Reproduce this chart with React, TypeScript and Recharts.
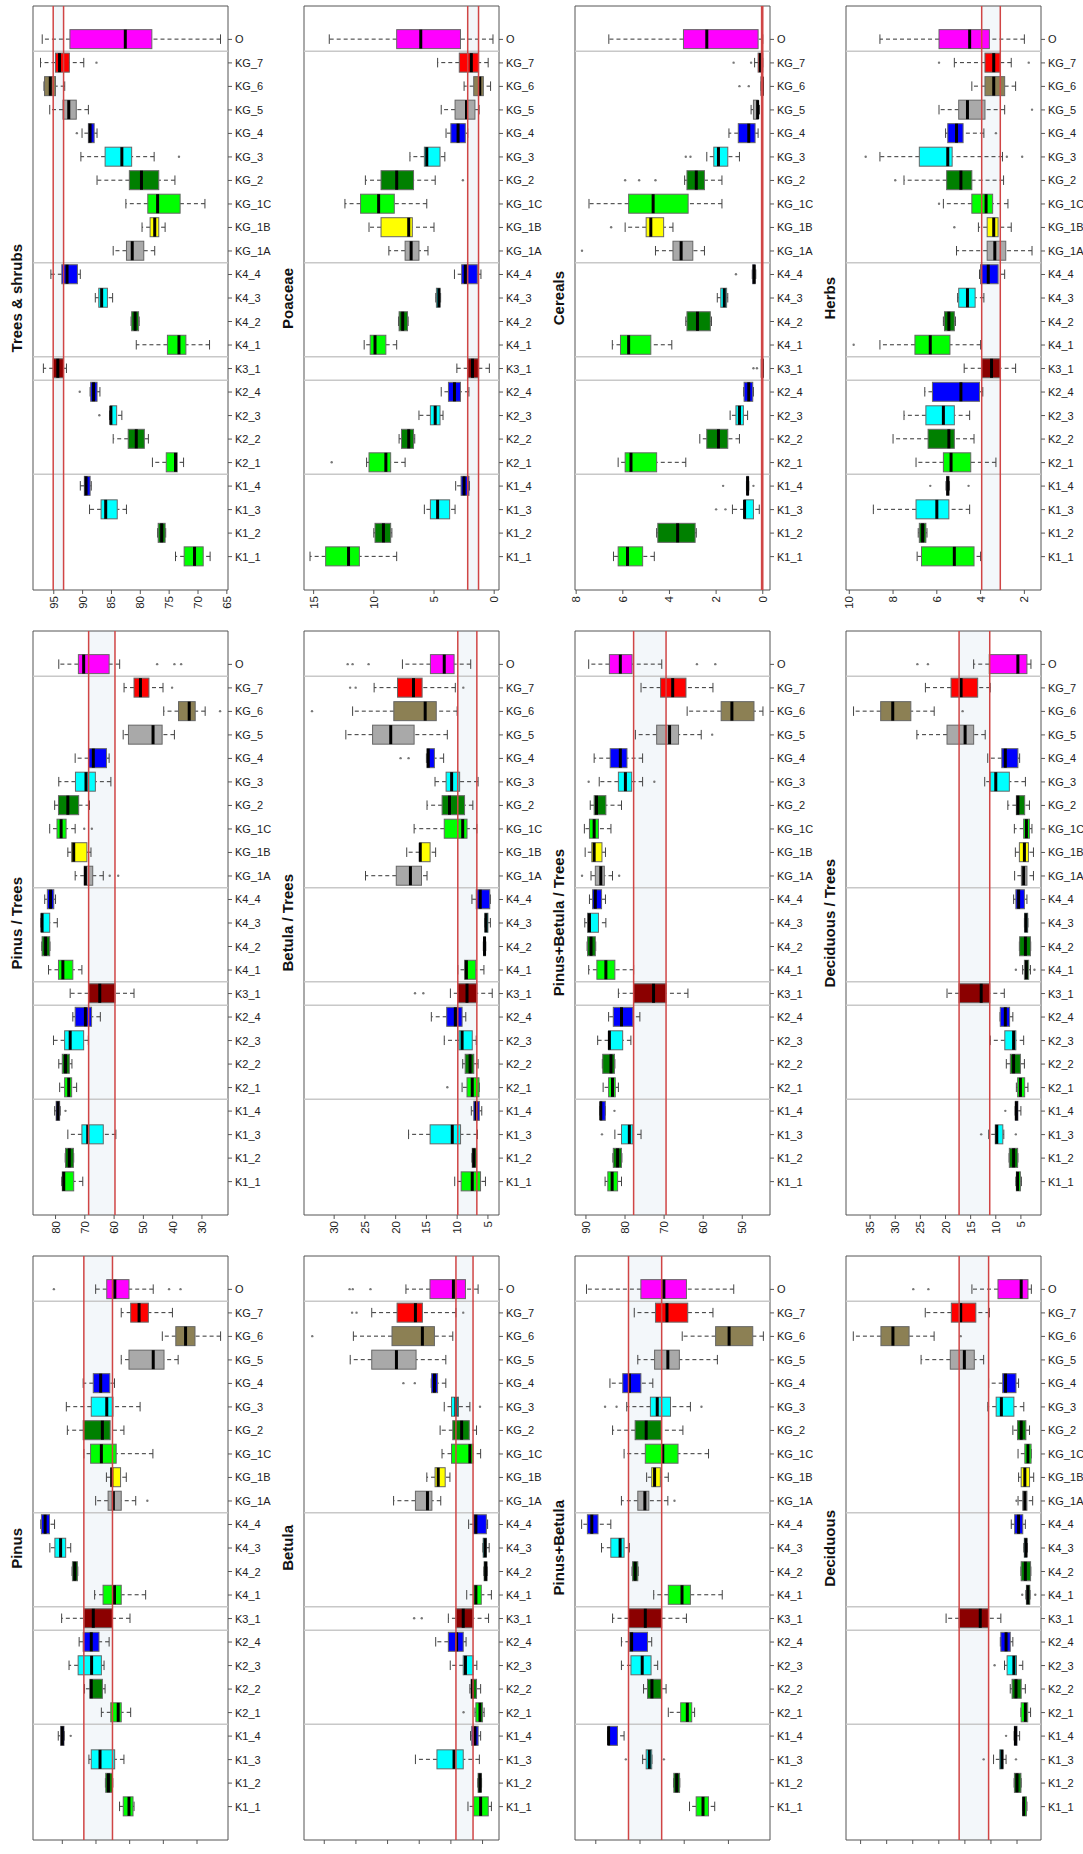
import React from "react";
import { ComposedChart, Bar, XAxis, YAxis, ReferenceLine, ReferenceArea } from "recharts";

const categories = ["K1_1","K1_2","K1_3","K1_4","K2_1","K2_2","K2_3","K2_4","K3_1","K4_1","K4_2","K4_3","K4_4","KG_1A","KG_1B","KG_1C","KG_2","KG_3","KG_4","KG_5","KG_6","KG_7","O"];
const boxColors = ["#00ff00","#008000","#00ffff","#0000ff","#00ff00","#008000","#00ffff","#0000ff","#8b0000","#00ff00","#008000","#00ffff","#0000ff","#a9a9a9","#ffff00","#00ff00","#008000","#00ffff","#0000ff","#a9a9a9","#8c8054","#ff0000","#ff00ff"];
const categoryExtent = [-0.42, 24.42];

// each row: [lower whisker, Q1, median, Q3, upper whisker] in category order
const treesShrubs = [[67.9,69.1,70.6,72.4,73.9],[75.6,75.7,76.3,76.9,77.0],[82.4,84.0,86.0,86.8,88.8],[88.5,88.7,89.4,89.7,90.4],[72.5,73.6,73.9,75.5,77.9],[78.6,79.3,80.7,82.1,84.7],[83.2,84.1,85.1,85.2,85.3],[87.0,87.5,88.1,88.6,88.7],[92.8,93.3,94.3,95.1,96.8],[68.0,72.1,73.3,75.3,80.7],[80.2,80.3,80.9,81.5,81.6],[84.8,85.7,86.7,87.2,87.8],[90.4,90.9,92.7,93.6,95.5],[77.5,79.4,81.4,82.4,84.7],[75.7,76.8,77.5,78.3,79.7],[68.8,73.1,77.0,78.7,82.5],[74.0,76.8,79.8,81.9,87.5],[77.6,81.5,83.2,86.1,90.3],[87.5,88.0,88.7,89.0,90.1],[89.0,91.1,92.4,93.4,95.7],[93.1,94.7,95.6,96.6,96.7],[89.8,92.3,94.0,94.7,97.3],[66.1,78.0,82.6,92.2,97.0]];
const treesShrubsOut = [["K2_3",87.1],["K2_4",90.5],["KG_3",73.3],["KG_4",91.0],["KG_7",87.6]];

const poaceae = [[8.1,11.2,12.1,14.0,15.3],[8.5,8.6,9.2,9.9,10.0],[3.25,3.7,4.7,5.3,5.8],[2.05,2.1,2.5,2.75,3.2],[7.4,8.6,9.0,10.4,10.6],[6.6,6.7,7.1,7.7,7.9],[4.25,4.5,4.9,5.3,6.25],[2.1,2.8,3.3,3.8,4.4],[0.4,1.3,1.8,2.2,3.1],[8.1,9.0,9.9,10.3,10.8],[7.15,7.2,7.6,7.9,7.95],[4.45,4.5,4.6,4.8,4.85],[1.1,1.4,2.4,2.7,3.3],[5.5,6.25,6.9,7.4,8.75],[5.0,6.8,7.1,9.4,10.4],[5.6,8.3,9.6,11.1,12.4],[4.9,6.7,8.1,9.4,10.7],[4.1,4.5,5.6,5.8,7.0],[2.2,2.4,3.0,3.6,4.0],[1.25,1.6,2.3,3.25,4.4],[0.3,0.9,1.2,1.7,2.5],[0.5,1.3,1.9,2.9,4.7],[0.1,2.8,6.1,8.1,13.7]];
const poaceaeOut = [["K2_1",13.5],["KG_2",2.6]];

const cereals = [[4.65,5.15,5.8,6.2,6.4],[2.85,2.9,3.65,4.5,4.55],[0.15,0.4,0.78,0.8,1.3],[0.6,0.62,0.65,0.68,0.7],[3.3,4.55,5.65,5.9,6.2],[1.0,1.5,1.9,2.4,2.7],[0.65,0.83,1.0,1.15,1.4],[0.4,0.43,0.6,0.8,0.82],[0,0,0.02,0.05,0.05],[3.9,4.8,5.75,6.1,6.45],[2.2,2.25,2.8,3.25,3.3],[1.5,1.55,1.65,1.8,1.95],[0.3,0.33,0.37,0.43,0.45],[2.5,3.0,3.5,3.85,4.6],[3.85,4.25,4.8,5.0,5.9],[1.75,3.2,4.7,5.75,7.45],[1.75,2.5,2.85,3.25,3.35],[1.0,1.5,1.9,2.1,2.4],[0.2,0.33,0.6,1.05,1.45],[0.14,0.2,0.22,0.4,0.5],[0,0,0.02,0.07,0.07],[0,0,0.1,0.2,0.35],[0.0,0.2,2.4,3.4,6.6]];
const cerealsOut = [["K1_3",2.0],["K1_3",1.6],["K1_4",1.7],["K1_4",0.4],["K3_1",0.4],["K3_1",0.25],["K4_4",1.15],["KG_1A",7.75],["KG_1B",6.5],["KG_2",4.6],["KG_2",5.3],["KG_2",5.9],["KG_3",3.1],["KG_3",3.3],["KG_6",0.6],["KG_6",1.0],["KG_7",1.25],["KG_7",0.5]];

const herbs = [[4.0,4.3,5.2,6.7,6.9],[6.45,6.5,6.65,6.8,6.85],[4.5,5.45,6.0,6.95,8.9],[5.42,5.45,5.5,5.55,5.58],[3.3,4.45,5.35,5.7,6.95],[4.3,5.2,5.45,6.4,8.0],[4.5,5.2,5.7,6.5,7.5],[3.9,4.05,4.9,6.2,6.55],[2.4,3.1,3.5,3.95,4.75],[4.0,5.4,6.3,7.0,8.6],[5.15,5.2,5.45,5.65,5.7],[3.85,4.25,4.6,5.0,5.05],[2.9,3.2,3.65,4.0,4.05],[1.65,2.85,3.35,3.7,5.1],[2.6,3.2,3.4,3.7,4.1],[2.75,3.45,3.75,4.4,5.7],[2.95,4.4,4.9,5.55,7.5],[3.0,5.3,5.5,6.8,8.6],[3.85,4.8,5.1,5.5,5.6],[2.9,3.8,4.6,5.0,5.9],[2.4,2.9,3.4,3.8,4.4],[2.6,3.1,3.4,3.8,5.2],[2.0,3.6,4.5,5.9,8.6]];
const herbsOut = [["K1_4",6.3],["K1_4",4.55],["K4_1",9.8],["KG_1B",5.2],["KG_1C",5.9],["KG_2",7.9],["KG_3",9.25],["KG_3",2.8],["KG_3",2.1],["KG_4",3.3],["KG_5",1.65],["KG_7",5.9],["KG_7",1.8]];

const pinusTrees = [[70.7,73.8,77.2,77.7,77.9],[73.8,73.9,75.3,76.6,76.7],[59.4,63.7,69.0,71.0,75.8],[78.4,78.6,79.2,79.8,80.3],[72.8,74.5,75.5,76.9,78.6],[74.4,75.3,76.6,77.7,78.9],[68.8,70.4,75.0,76.9,80.7],[64.7,67.7,69.8,73.3,74.1],[53.2,59.7,64.9,68.7,75.0],[71.0,74.1,77.5,79.0,82.4],[81.9,82.0,83.4,84.6,84.7],[79.4,82.0,84.6,84.9,85.0],[80.0,80.6,81.7,82.8,83.7],[63.7,67.3,69.8,70.2,73.3],[67.9,69.3,73.8,74.5,75.8],[73.3,76.4,78.1,79.5,82.0],[68.4,72.1,75.8,79.0,80.3],[61.1,66.4,69.6,73.2,78.9],[61.7,62.6,67.1,68.7,73.3],[39.4,43.6,46.7,55.1,56.9],[28.9,32.3,34.35,38.0,43.05],[43.3,48.1,51.0,53.2,56.6],[58.1,61.7,70.4,72.2,78.9]];
const pinusTreesOut = [["K1_4",76.6],["KG_1A",61.5],["KG_1A",58.6],["KG_1C",70.2],["KG_1C",67.6],["KG_6",23.8],["KG_7",40.2],["O",45.3],["O",39.4],["O",37.1]];

const betulaTrees = [[5.4,6.2,7.55,9.35,10.4],[6.85,6.9,7.3,7.55,7.6],[6.7,9.45,10.8,14.4,17.9],[6.0,6.4,6.9,7.3,7.7],[6.4,6.45,7.55,8.4,9.2],[6.6,7.3,7.9,8.7,9.1],[6.9,7.55,9.2,9.7,12.1],[8.6,9.2,10.3,11.7,14.2],[4.3,6.8,8.4,9.9,11.1],[5.65,7.0,8.5,8.8,9.9],[5.35,5.4,5.55,5.7,5.75],[4.6,5.0,5.3,5.5,5.55],[4.6,4.7,6.25,6.9,7.6],[14.9,15.8,17.6,19.9,24.9],[13.5,14.4,16.0,16.1,18.2],[6.8,8.4,9.1,12.1,17.0],[7.45,8.8,11.25,12.45,14.9],[6.6,9.6,10.9,11.8,13.6],[12.2,13.7,14.7,14.9,15.0],[11.6,17.0,20.8,23.75,28.1],[10.0,13.4,15.2,20.3,27.0],[10.3,15.7,17.1,19.7,23.5],[7.8,10.5,12.1,14.35,18.9]];
const betulaTreesOut = [["K2_1",11.6],["K3_1",16.85],["K3_1",15.5],["KG_4",19.2],["KG_4",17.9],["KG_6",33.6],["KG_7",27.4],["KG_7",26.5],["KG_7",9.0],["O",27.8],["O",27.0],["O",24.4]];

const pinusBetulaTrees = [[80.9,81.9,83.3,84.4,85.1],[80.8,80.9,81.9,83.0,83.1],[75.9,78.0,78.9,80.9,82.6],[85.0,85.05,86.2,86.3,86.4],[81.7,82.5,83.2,84.2,85.6],[82.6,82.7,83.6,85.7,85.8],[78.5,80.6,84.0,84.2,87.0],[76.2,78.0,80.9,83.0,84.2],[63.9,69.5,72.7,77.8,81.7],[77.8,82.6,84.9,87.2,89.3],[87.5,87.6,88.7,89.6,89.7],[84.9,86.8,89.1,89.6,90.3],[85.0,86.0,87.6,88.3,89.1],[83.2,85.3,86.2,87.6,88.7],[85.0,85.9,87.9,88.5,90.2],[83.6,86.8,87.9,89.1,90.4],[80.9,84.9,87.3,87.9,88.9],[75.5,78.3,79.9,81.7,86.6],[75.5,79.5,81.2,83.8,87.9],[60.5,66.3,68.6,71.9,77.35],[44.7,47.0,52.65,55.4,64.1],[57.5,64.4,67.8,70.9,75.9],[70.6,78.2,81.2,84.0,89.3]];
const pinusBetulaTreesOut = [["K1_3",85.9],["K1_4",82.7],["KG_1A",91.0],["KG_1A",81.5],["KG_3",89.3],["KG_3",72.5],["KG_5",57.7],["O",61.6],["O",56.9]];

const deciduousTrees = [[4.9,5.1,5.65,5.9,6.0],[5.6,5.65,6.45,7.3,7.35],[8.4,8.6,9.8,10.1,11.4],[5.0,5.6,5.9,6.1,6.15],[3.6,4.25,5.1,5.65,5.9],[4.3,5.1,6.45,7.1,7.9],[4.45,6.0,6.45,8.2,11.1],[6.6,7.25,8.1,9.1,9.15],[8.3,11.2,12.9,17.3,19.7],[3.1,3.45,3.9,4.3,4.65],[3.05,3.1,4.1,5.25,5.3],[3.6,3.65,4.0,4.25,4.3],[3.8,4.3,5.45,6.0,6.45],[2.5,3.8,4.45,4.9,6.25],[2.5,3.5,4.3,5.3,6.1],[2.8,3.3,3.9,4.45,6.3],[3.3,4.25,5.6,5.9,7.6],[4.1,7.3,10.0,11.1,12.2],[5.25,5.6,8.1,8.8,11.6],[12.1,14.4,16.1,19.7,25.7],[22.25,26.9,30.5,32.9,38.3],[11.1,13.6,16.9,18.9,24.0],[3.0,3.8,5.6,11.3,14.4]];
const deciduousTreesOut = [["K1_3",12.9],["K1_3",6.0],["K1_4",8.1],["K4_1",6.0],["K4_1",2.3],["KG_6",16.6],["O",25.6],["O",23.5]];

const pinus = [[48.7,49.0,50.2,51.9,53.0],[55.0,55.1,56.3,57.1,57.2],[51.7,54.45,58.8,61.4,62.1],[69.4,69.5,70.0,70.5,71.2],[49.7,52.5,53.4,55.6,58.4],[57.3,58.1,61.4,61.8,63.4],[57.6,58.4,61.3,65.3,68.0],[56.1,59.1,61.4,63.8,65.0],[49.9,55.1,60.8,63.6,70.2],[45.25,52.5,54.5,57.9,60.4],[65.4,65.5,66.3,67.0,67.1],[67.5,69.0,70.5,72.2,73.7],[72.3,73.8,75.1,76.2,76.4],[48.2,52.5,54.85,56.4,60.1],[51.0,52.7,55.3,55.6,56.9],[43.1,54.0,58.4,61.6,63.6],[51.7,55.8,58.1,63.8,68.5],[46.9,54.95,56.8,61.4,68.8],[54.5,55.9,58.6,60.8,63.8],[35.6,39.8,43.0,50.2,52.5],[23.0,30.6,33.4,36.3,40.3],[37.3,44.45,47.2,49.7,52.5],[43.0,50.2,54.4,56.8,60.1]];
const pinusOut = [["K1_4",67.5],["KG_1A",44.75],["O",72.5],["O",38.3],["O",34.9]];

const betula = [[3.6,4.1,5.3,6.4,7.3],[5.15,5.2,5.4,5.7,5.75],[5.5,8.05,9.5,12.2,15.6],[5.3,5.7,6.2,6.7,6.9],[4.75,5.0,5.4,6.05,6.2],[5.3,5.95,6.6,6.8,7.0],[5.9,6.5,7.7,8.05,10.1],[7.6,8.05,9.1,10.4,12.4],[4.05,6.5,8.05,9.2,10.4],[3.6,5.2,6.05,6.4,7.5],[4.25,4.3,4.5,4.75,4.8],[3.95,4.4,4.6,4.9,4.95],[4.2,4.4,6.05,6.4,7.2],[11.6,13.0,13.7,15.6,19.05],[10.15,10.9,12.0,12.5,13.8],[5.3,6.5,7.0,9.9,11.4],[5.95,7.1,8.3,9.7,11.7],[7.0,8.8,9.2,9.9,11.05],[10.8,12.1,12.6,13.05,13.1],[10.8,15.5,18.6,22.5,25.9],[9.7,12.6,14.5,19.3,25.4],[9.2,14.5,15.6,18.5,22.5],[5.7,7.7,9.6,13.3,17.1]];
const betulaOut = [["K2_1",8.0],["K3_1",15.8],["K3_1",14.6],["KG_3",5.4],["KG_4",17.5],["KG_4",15.7],["KG_6",31.9],["KG_7",25.6],["KG_7",24.9],["KG_7",8.05],["O",26.0],["O",25.5],["O",22.7]];

const pinusBetula = [[53.1,54.5,55.75,57.3,58.8],[61.0,61.05,61.7,62.35,62.4],[67.3,67.35,67.9,68.6,69.4],[73.6,75.1,77.1,77.2,77.3],[57.65,58.3,59.3,60.8,63.6],[64.1,65.2,67.3,68.3,69.2],[66.0,67.5,69.5,72.05,74.2],[67.35,68.3,71.9,72.4,74.2],[59.5,65.1,68.8,72.6,76.2],[51.4,58.6,60.5,63.6,66.9],[70.4,70.5,71.1,71.7,71.8],[72.4,73.6,74.5,76.6,78.7],[76.6,79.5,80.9,81.9,83.2],[63.7,68.0,68.9,70.5,74.2],[63.6,65.4,66.7,67.35,68.5],[54.5,61.4,64.85,68.8,73.6],[60.3,65.2,68.6,71.1,76.2],[58.6,63.1,66.1,67.65,73.0],[67.1,69.8,72.4,73.9,76.8],[52.5,61.1,63.7,66.7,70.5],[42.1,44.5,49.85,52.9,60.45],[53.5,59.2,63.9,66.5,71.3],[48.8,59.5,64.6,69.8,82.1]];
const pinusBetulaOut = [["K1_3",73.2],["K1_3",64.6],["KG_1A",62.2],["KG_3",77.9],["KG_3",75.3],["KG_3",56.1]];

const deciduous = [[3.1,3.2,3.7,3.9,3.95],[4.2,4.25,5.0,5.5,5.55],[7.1,7.7,7.9,8.3,9.5],[4.5,5.0,5.3,5.5,5.55],[2.4,2.95,3.4,4.2,4.25],[3.4,4.2,5.2,5.95,6.3],[3.9,5.1,5.6,6.9,7.4],[5.8,6.3,7.1,8.1,8.2],[8.1,10.45,12.05,16.1,18.6],[2.5,2.55,2.9,3.2,3.3],[2.35,2.4,3.4,4.2,4.25],[3.0,3.1,3.3,3.6,3.7],[3.4,3.9,4.7,5.45,6.1],[2.0,3.1,3.5,3.9,4.8],[1.8,2.6,3.5,4.2,4.7],[2.25,2.3,2.9,3.5,4.8],[2.6,3.3,4.2,4.9,5.8],[3.7,5.6,8.0,9.0,10.6],[4.7,5.2,7.2,7.75,10.45],[11.4,13.2,15.1,17.8,23.4],[20.9,25.7,28.8,31.1,36.4],[10.3,12.9,15.8,17.6,22.6],[2.25,2.9,4.2,8.65,13.65]];
const deciduousOut = [["K1_3",11.4],["K1_3",5.2],["K1_4",7.1],["K2_3",9.3],["K4_1",4.0],["K4_1",1.5],["KG_1A",5.1],["KG_6",15.8],["O",24.9],["O",22.0]];

const panels = [
  { title: "Trees & shrubs", boxes: treesShrubs, outs: treesShrubsOut, domain: [64.8, 98.6], ticks: [65,70,75,80,85,90,95] },
  { title: "Poaceae", boxes: poaceae, outs: poaceaeOut, domain: [-0.4, 15.8], ticks: [0,5,10,15] },
  { title: "Cereals", boxes: cereals, outs: cerealsOut, domain: [-0.31, 8.05], ticks: [0,2,4,6,8] },
  { title: "Herbs", boxes: herbs, outs: herbsOut, domain: [1.24, 10.15], ticks: [2,4,6,8,10] },
  { title: "Pinus / Trees", boxes: pinusTrees, outs: pinusTreesOut, domain: [21.1, 87.7], ticks: [30,40,50,60,70,80] },
  { title: "Betula / Trees", boxes: betulaTrees, outs: betulaTreesOut, domain: [3.2, 34.9], ticks: [5,10,15,20,25,30] },
  { title: "Pinus+Betula / Trees", boxes: pinusBetulaTrees, outs: pinusBetulaTreesOut, domain: [42.9, 92.8], ticks: [50,60,70,80,90] },
  { title: "Deciduous / Trees", boxes: deciduousTrees, outs: deciduousTreesOut, domain: [1.0, 39.8], ticks: [5,10,15,20,25,30,35] },
  { title: "Pinus", boxes: pinus, outs: pinusOut, domain: [20.8, 78.7], ticks: [30,40,50,60,70] },
  { title: "Betula", boxes: betula, outs: betulaOut, domain: [2.4, 33.2], ticks: [5,10,15,20,25,30] },
  { title: "Pinus+Betula", boxes: pinusBetula, outs: pinusBetulaOut, domain: [40.6, 84.7], ticks: [50,60,70,80] },
  { title: "Deciduous", boxes: deciduous, outs: deciduousOut, domain: [0.4, 37.8], ticks: [5,10,15,20,25,30,35] },
];

const COL_W = 271;
const ROW_H = 625;
const FONT = "'Liberation Sans', Arial, Helvetica, sans-serif";

const groupOf = (c: string) => (c === "O" ? "O" : c.slice(0, 2));
const positions = categories.map((_, i) => i + 1);
const separators = categories
  .map((c, i) => (i > 0 && groupOf(c) !== groupOf(categories[i - 1]) ? i + 0.5 : null))
  .filter((v) => v !== null) as number[];

function BoxShape(props: any) {
  const { x, y, width, height, payload } = props;
  const { min, q1, med, q3, max, outs, fill } = payload;
  const px = (v: number) => x + ((v - min) / (max - min)) * width;
  const cy = y + height / 2;
  const cap = height / 4;
  const bx = Math.min(px(q1), px(q3));
  const bw = Math.abs(px(q3) - px(q1));
  return (
    <g>
      <line x1={px(min)} x2={px(q1)} y1={cy} y2={cy} stroke="#333" strokeDasharray="4 3" strokeWidth={1} />
      <line x1={px(q3)} x2={px(max)} y1={cy} y2={cy} stroke="#333" strokeDasharray="4 3" strokeWidth={1} />
      <line x1={px(min)} x2={px(min)} y1={cy - cap} y2={cy + cap} stroke="#444" strokeWidth={1} />
      <line x1={px(max)} x2={px(max)} y1={cy - cap} y2={cy + cap} stroke="#444" strokeWidth={1} />
      <rect x={bx} y={y} width={bw} height={height} fill={fill} stroke="#666" strokeWidth={1} />
      <line x1={px(med)} x2={px(med)} y1={y} y2={y + height} stroke="#000" strokeWidth={3} />
      {outs.map((v: number, k: number) => (
        <circle key={k} cx={px(v)} cy={cy} r={1.2} fill="#777" />
      ))}
    </g>
  );
}

function RotTick(props: any) {
  const { x, y, payload, hidden } = props;
  if (hidden) return <g />;
  return (
    <text x={x} y={y} transform={`rotate(-90 ${x} ${y})`} textAnchor="end" dominantBaseline="central" fontSize={11.5} fill="#222" fontFamily={FONT}>
      {payload.value}
    </text>
  );
}

function CatTick(props: any) {
  const { x, y, payload } = props;
  return (
    <text x={x} y={y} textAnchor="start" dominantBaseline="central" fontSize={11} fill="#222" fontFamily={FONT}>
      {categories[payload.value - 1]}
    </text>
  );
}

function Panel({ panel, col, row }: any) {
  const data = categories.map((name, i) => {
    const [min, q1, med, q3, max] = panel.boxes[i];
    return {
      pos: i + 1,
      name,
      min, q1, med, q3, max,
      fill: boxColors[i],
      outs: panel.outs.filter((o: any) => o[0] === name).map((o: any) => o[1]),
    };
  });
  const ref = data[categories.indexOf("K3_1")];
  // the last row's value labels fall below the page edge in the reference crop
  const hideValueLabels = row === 2;
  return (
    <div style={{ position: "absolute", left: col * COL_W, top: row * ROW_H, width: COL_W, height: ROW_H }}>
      <div
        style={{
          position: "absolute", left: 0, top: 6, width: 33, height: 584,
          display: "flex", alignItems: "center", justifyContent: "center",
        }}
      >
        <div style={{ writingMode: "vertical-rl", transform: "rotate(180deg)", fontWeight: "bold", fontSize: 15, fontFamily: FONT, color: "#111", whiteSpace: "nowrap" }}>
          {panel.title}
        </div>
      </div>
      <ComposedChart
        width={COL_W}
        height={ROW_H}
        layout="vertical"
        data={data}
        margin={{ top: 6, right: 0, bottom: 0, left: 33 }}
        style={{ overflow: "visible" }}
      >
        <XAxis
          type="number"
          domain={panel.domain}
          ticks={panel.ticks}
          reversed
          allowDataOverflow
          axisLine={false}
          tickLine={{ stroke: "#555" }}
          tickSize={4}
          tickMargin={2}
          height={35}
          interval={0}
          tick={<RotTick hidden={hideValueLabels} />}
        />
        <YAxis
          type="number"
          dataKey="pos"
          orientation="right"
          domain={categoryExtent}
          ticks={positions}
          reversed
          allowDataOverflow
          axisLine={false}
          tickLine={{ stroke: "#555" }}
          tickSize={4}
          tickMargin={3}
          width={43}
          interval={0}
          tick={<CatTick />}
        />
        <ReferenceArea x1={ref.q1} x2={ref.q3} y1={categoryExtent[0]} y2={categoryExtent[1]} fill="#dde9f0" fillOpacity={0.35} stroke="none" ifOverflow="hidden" />
        {separators.map((s) => (
          <ReferenceLine key={s} y={s} stroke="#c8c8c8" strokeWidth={1.5} />
        ))}
        <Bar dataKey={(d: any) => [d.min, d.max]} barSize={19} isAnimationActive={false} shape={<BoxShape />} />
        <ReferenceLine x={ref.q1} stroke="#d04545" strokeWidth={1.5} />
        <ReferenceLine x={ref.q3} stroke="#d04545" strokeWidth={1.5} />
        <ReferenceArea x1={panel.domain[0]} x2={panel.domain[1]} y1={categoryExtent[0]} y2={categoryExtent[1]} fill="none" stroke="#555" strokeWidth={1} />
      </ComposedChart>
    </div>
  );
}

export default function App() {
  return (
    <div style={{ position: "absolute", left: 0, top: 0, width: 1083, height: 1854, overflow: "hidden", background: "#fff", fontFamily: FONT }}>
      {panels.map((p, i) => (
        <Panel key={p.title} panel={p} col={i % 4} row={Math.floor(i / 4)} />
      ))}
    </div>
  );
}
